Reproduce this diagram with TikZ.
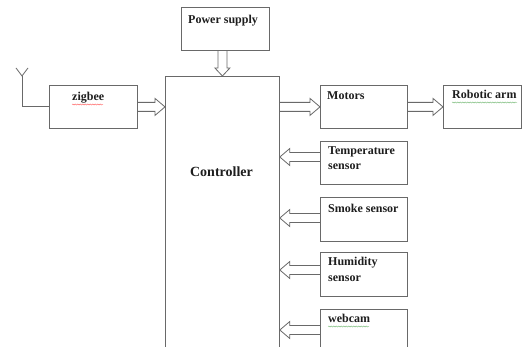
\documentclass[tikz,border=0pt]{standalone}
\usepackage{fontspec}
\setmainfont{Liberation Serif}
\usetikzlibrary{calc,decorations.pathmorphing}
\definecolor{lc}{RGB}{105,105,105}
\definecolor{tc}{RGB}{30,30,30}
\newcommand\rarr[2]{\draw[arr] let \p1=#1, \p2=#2 in (\x1,\y1+4.5pt) -- (\x2-10pt,\y1+4.5pt) -- (\x2-10pt,\y1+8.5pt) -- (\x2,\y1) -- (\x2-10pt,\y1-8.5pt) -- (\x2-10pt,\y1-4.5pt) -- (\x1,\y1-4.5pt);}
\newcommand\larr[2]{\draw[arr] let \p1=#1, \p2=#2 in (\x1,\y1+4.5pt) -- (\x2+10pt,\y1+4.5pt) -- (\x2+10pt,\y1+8.5pt) -- (\x2,\y1) -- (\x2+10pt,\y1-8.5pt) -- (\x2+10pt,\y1-4.5pt) -- (\x1,\y1-4.5pt);}
\begin{document}
\begin{tikzpicture}[x=1pt,y=-1pt,
  box/.style={draw=lc, line width=0.8pt, inner sep=0pt, anchor=north west},
  lbl/.style={anchor=base west, inner sep=0pt, text=tc, font=\bfseries\fontsize{12}{14}\selectfont},
  arr/.style={draw=lc, line width=0.8pt},
  wire/.style={draw=lc, line width=0.8pt},
  squig/.style={line width=0.4pt, decorate, decoration={snake, amplitude=0.5pt, segment length=2.5pt}},
]
\useasboundingbox (0,0) rectangle (523,347);
\clip (0,0) rectangle (523,347);
\fill[white] (0,0) rectangle (523,347);

% boxes
\node[box, minimum width=88pt, minimum height=43pt] (power) at (181,7) {};
\node[box, minimum width=114pt, minimum height=300pt] (ctrl) at (165,76) {};
\node[box, minimum width=88pt, minimum height=43pt] (zigbee) at (49,85) {};
\node[box, minimum width=87pt, minimum height=43pt] (motors) at (320,85) {};
\node[box, minimum width=78pt, minimum height=43pt] (robot) at (443,85) {};
\node[box, minimum width=87pt, minimum height=43pt] (temp) at (320,141) {};
\node[box, minimum width=87pt, minimum height=44pt] (smoke) at (320,197) {};
\node[box, minimum width=87pt, minimum height=44pt] (humid) at (320,252) {};
\node[box, minimum width=87pt, minimum height=60pt] (webcam) at (320,309) {};

% labels
\node[lbl] (tpower) at (188,24) {Power supply};
\node[lbl] (tzig) at (72,101) {zigbee};
\node[lbl] (tmot) at (327,100) {Motors};
\node[lbl] (trob) at (452,99) {Robotic arm};
\node[lbl] (ttemp1) at (328,155) {Temperature};
\node[lbl] (ttemp2) at (328,170) {sensor};
\node[lbl] (tsmoke) at (328,213) {Smoke sensor};
\node[lbl] (thum1) at (328,266) {Humidity};
\node[lbl] (thum2) at (328,282) {sensor};
\node[lbl] (tweb) at (328,323) {webcam};
\node[anchor=base, inner sep=0pt, text=tc, font=\bfseries\fontsize{14}{16}\selectfont] (tctrl) at (221.5,177) {Controller};

% spell-check marks
\draw[squig, red!70] (72,104.5) -- (103,104.5);
\draw[squig, green!50!black!60] (452,102.5) -- (517,102.5);
\draw[squig, green!50!black!60] (328,326.5) -- (369,326.5);

% antenna
\coordinate (ant) at (22,76);
\coordinate (antl) at (16,68);
\coordinate (antr) at (28,68);
\draw[wire] (zigbee.west) -| (ant);
\draw[wire] (antl) -- (ant) -- (antr);

% arrows
\draw[arr] let \p1=(power.south), \p2=(ctrl.north) in
  (\x2-4.5pt,\y1) -- (\x2-4.5pt,\y2+8pt) -- (\x2-7.5pt,\y2+8pt) -- (\x2,\y2)
  -- (\x2+7.5pt,\y2+8pt) -- (\x2+4.5pt,\y2+8pt) -- (\x2+4.5pt,\y1);
\rarr{(zigbee.east)}{(ctrl.west)}
\rarr{(ctrl.east |- motors.west)}{(motors.west)}
\rarr{(motors.east)}{(robot.west)}
\larr{($(temp.north west)+(0,16)$)}{(ctrl.east)}
\larr{($(smoke.north west)+(0,21)$)}{(ctrl.east)}
\larr{($(humid.north west)+(0,18)$)}{(ctrl.east)}
\larr{($(webcam.north west)+(0,21)$)}{(ctrl.east)}
\end{tikzpicture}
\end{document}
